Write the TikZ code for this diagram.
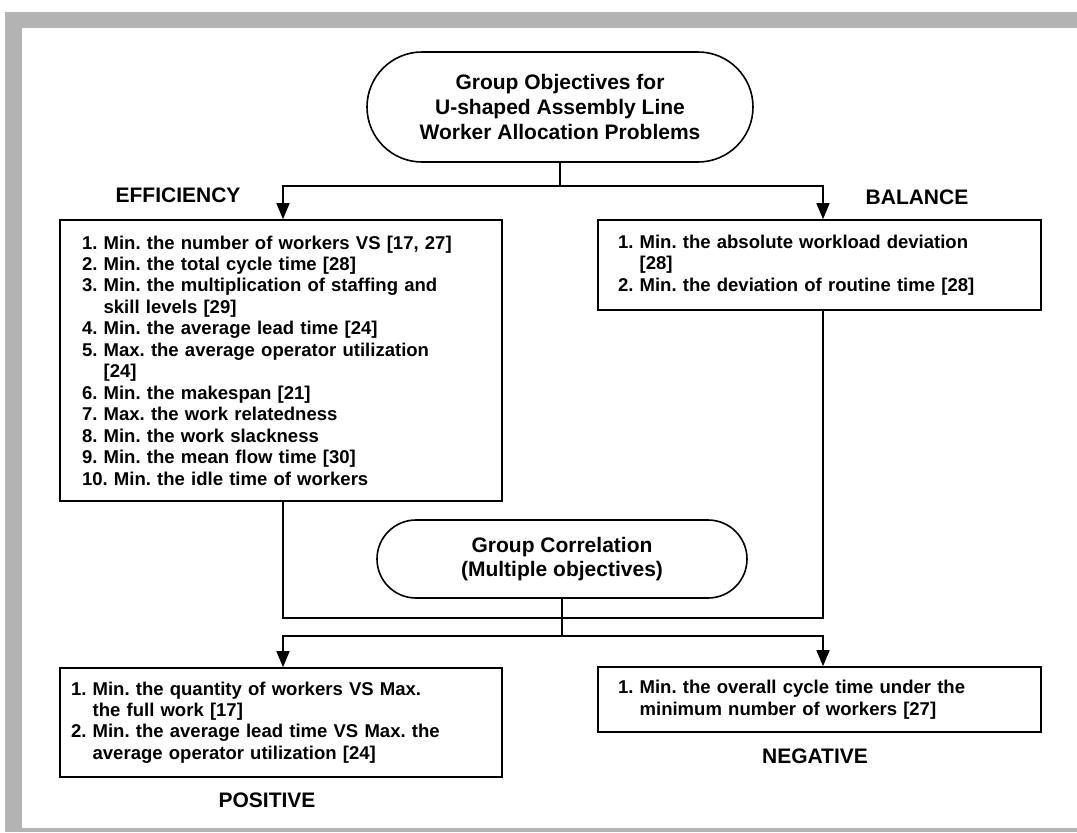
\documentclass[tikz,border=0pt]{standalone}
\usepackage{fontspec}
\setmainfont{Liberation Sans}
\usetikzlibrary{arrows.meta}
\definecolor{framegray}{RGB}{179,179,179}
\newcommand\myTitleFont{\bfseries\frenchspacing\fontsize{15.75}{18.5}\selectfont}
\newcommand\myListFont{\bfseries\frenchspacing\fontsize{13.9}{16.1}\selectfont}
\newcommand\myLabelFont{\bfseries\fontsize{15.75}{18}\selectfont}
\tikzset{
  box/.style={draw, line width=1.2pt, align=left, font=\myListFont, inner ysep=0pt},
  pill/.style={draw, line width=1.2pt, align=center, font=\myTitleFont, inner sep=0pt},
  lbl/.style={font=\myLabelFont, inner sep=0pt},
  conn/.style={line width=1.1pt},
  arr/.style={line width=1.1pt, arrows={Triangle[width=9.75pt,length=12pt]-Triangle[width=9.75pt,length=12pt]}}
}
\begin{document}
\frenchspacing
\begin{tikzpicture}[x=0.75pt, y=-0.75pt]
\useasboundingbox (0,0) rectangle (1077,832);
\fill[framegray] (5,12) rectangle (1077,832);
\fill[white] (22,28) rectangle (1077,828);

% top objective
\node[pill, minimum width=289.5pt, minimum height=82.5pt, rounded corners=41.25pt] (T) at (560,107)
  {Group Objectives for\\U-shaped Assembly Line\\Worker Allocation Problems};

% efficiency box
\node[box, text width=298.5pt, inner xsep=16.5pt, minimum height=210.75pt] (L) at (281,360.5)
  {1. Min. the number of workers VS [17, 27]\\
   2. Min. the total cycle time [28]\\
   3. Min. the multiplication of staffing and\\
   \hphantom{3. }skill levels [29]\\
   4. Min. the average lead time [24]\\
   5. Max. the average operator utilization\\
   \hphantom{5. }[24]\\
   6. Min. the makespan [21]\\
   7. Max. the work relatedness\\
   8. Min. the work slackness\\
   9. Min. the mean flow time [30]\\
   10. Min. the idle time of workers};

% balance box
\node[box, text width=302.25pt, inner xsep=15pt, minimum height=67.5pt] (R) at (819.5,265)
  {1. Min. the absolute workload deviation\\
   \hphantom{1. }[28]\\
   2. Min. the deviation of routine time [28]};

% correlation
\node[pill, minimum width=277.5pt, minimum height=58.5pt, rounded corners=29.25pt] (O) at (562,559)
  {Group Correlation\\(Multiple objectives)};

% positive box
\node[box, text width=315pt, inner xsep=8.25pt, minimum height=81.75pt] (P) at (281,722.5)
  {1. Min. the quantity of workers VS Max.\\
   \hphantom{1. }the full work [17]\\
   2. Min. the average lead time VS Max. the\\
   \hphantom{2. }average operator utilization [24]};

% negative box
\node[box, text width=302.25pt, inner xsep=15pt, minimum height=48.75pt] (N) at (819.5,699.5)
  {1. Min. the overall cycle time under the\\
   \hphantom{1. }minimum number of workers [27]};

% labels
\node[lbl] (eff) at (178,195) {EFFICIENCY};
\node[lbl] (bal) at (917,197) {BALANCE};
\node[lbl] (pos) at (267,800) {POSITIVE};
\node[lbl] (neg) at (815,756) {NEGATIVE};

% connectors
\coordinate (a1) at (283,186);
\coordinate (a2) at (823,186);
\coordinate (b1) at (283,618);
\coordinate (b2) at (823,618);
\coordinate (c1) at (283,636);
\coordinate (c2) at (823,636);

\draw[conn] (T.south) -- (T.south |- a1);
\draw[arr] (a1 |- L.north) -- (a1) -- (a2) -- (a2 |- R.north);

\draw[conn] (L.south -| b1) -- (b1) -- (b2) -- (R.south -| b2);

\draw[conn] (O.south) -- (O.south |- c1);
\draw[arr] (c1 |- P.north) -- (c1) -- (c2) -- (c2 |- N.north);
\end{tikzpicture}
\end{document}
